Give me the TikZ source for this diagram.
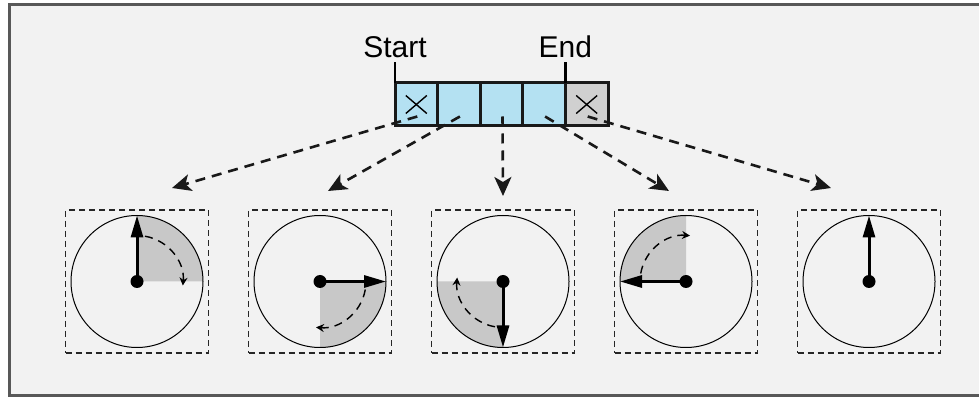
\documentclass[tikz,border=0pt]{standalone}
\usepackage{fontspec}
\setmainfont{Liberation Sans}
\usetikzlibrary{positioning,calc,arrows.meta}
\definecolor{cellblue}{RGB}{180,225,242}
\definecolor{cellgray}{RGB}{208,208,208}
\definecolor{bggray}{RGB}{242,242,242}
\definecolor{sectgray}{RGB}{200,200,200}
\definecolor{framegray}{RGB}{88,88,88}
\tikzstyle{cell} = [draw=black!90, line width=3pt, rectangle, fill=cellblue, minimum width=42.6pt, minimum height=43pt, inner sep=0pt, outer sep=0pt]
\tikzstyle{lbl} = [font=\fontsize{30}{35}\selectfont, inner sep=4pt]
\tikzstyle{clockbox} = [draw=black!85, line width=1.4pt, dash pattern=on 6pt off 4pt, rectangle, minimum size=143pt, inner sep=0pt, outer sep=0pt]
\tikzstyle{link} = [draw=black!90, line width=2.6pt, dash pattern=on 10pt off 7pt, -{Stealth[length=19pt,width=17pt,inset=5pt]}]
\tikzstyle{hand} = [line width=3pt, -{Triangle[length=22pt,width=12pt]}]
\tikzstyle{turn} = [line width=1.4pt, dash pattern=on 8pt off 6pt, -{Stealth[length=8pt,width=8pt]}]

\begin{document}
\begin{tikzpicture}[x=1pt,y=1pt]
        \useasboundingbox (0,0) rectangle (979,396);
        % frame
        \fill[bggray] (9.5,1) rectangle (990,391.5);
        \draw[framegray, line width=3pt] (9.5,1) rectangle (990,391.5);

        % buffer
        \node [cell] (c1) at (416.3,291.5) {};
        \node [cell, right=0pt of c1] (c2) {};
        \node [cell, right=0pt of c2] (c3) {};
        \node [cell, right=0pt of c3] (c4) {};
        \node [cell, fill=cellgray, right=0pt of c4] (c5) {};
        \foreach \c in {c1,c5} {
            \draw[line width=1.4pt] ($(\c.center)+(-10.5,9)$) -- ($(\c.center)+(10.5,-9)$);
            \draw[line width=1.4pt] ($(\c.center)+(-10.5,-9)$) -- ($(\c.center)+(10.5,9)$);
        }

        \node [lbl, above=21pt of c1.north west] (start) {Start};
        \node [lbl, above=21pt of c5.north west] (end) {End};
        \draw[line width=2.2pt] (c1.north west) -- (start);
        \draw[line width=2.2pt] (c5.north west) -- (end);

        % clocks
        \node [clockbox] (k1) at (137,114.5) {};
        \node [clockbox, right=40pt of k1] (k2) {};
        \node [clockbox, right=40pt of k2] (k3) {};
        \node [clockbox, right=40pt of k3] (k4) {};
        \node [clockbox, right=40pt of k4] (k5) {};

        \foreach \i/\a [evaluate=\a as \s using \a-10, evaluate=\a as \e using \a-95] in {1/90,2/0,3/-90,4/180} {
            \fill[sectgray] (k\i.center) -- ++(\a:66) arc[start angle=\a, end angle=\a-90, radius=66] -- cycle;
            \draw[turn] ($(k\i.center)+(\s:46)$) arc[start angle=\s, end angle=\e, radius=46];
        }
        \foreach \i/\a in {1/90,2/0,3/-90,4/180,5/90} {
            \draw[line width=1pt] (k\i.center) circle (66);
            \draw[hand] (k\i.center) -- ++(\a:66);
            \fill (k\i.center) circle (6.5);
        }

        % links
        \coordinate (t1) at ($(k1.north)+(35,22)$);
        \coordinate (t2) at ($(k2.north)+(8,19)$);
        \coordinate (t3) at ($(k3.north)+(0,14)$);
        \coordinate (t4) at ($(k4.north)+(-17,19)$);
        \coordinate (t5) at ($(k5.north)+(-38,22)$);
        \foreach \i in {1,...,5}
            \draw[link] ($(c\i.center)+(1,-12)$) -- (t\i);
\end{tikzpicture}
\end{document}
